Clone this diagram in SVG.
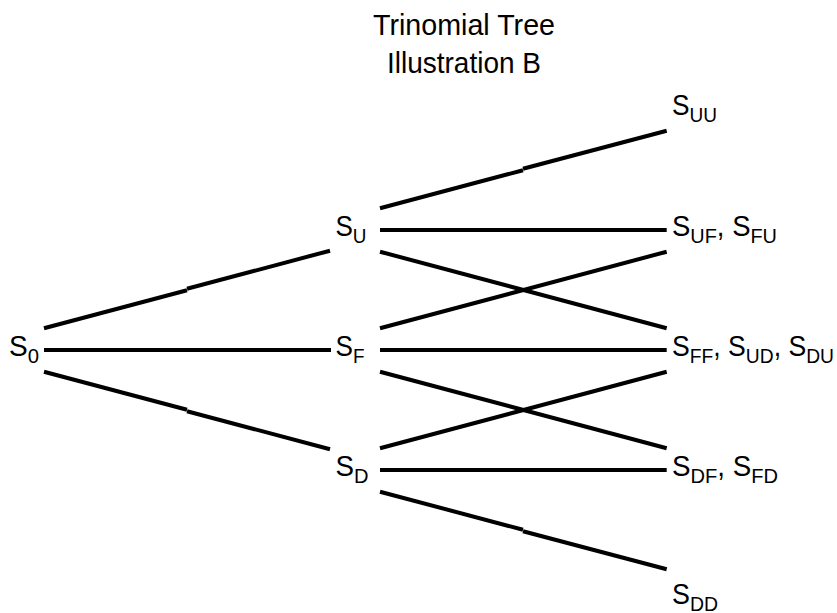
<svg xmlns="http://www.w3.org/2000/svg" width="837" height="613" viewBox="0 0 837 613">
  <style>
    text { font-family: "Liberation Sans", Arial, Helvetica, sans-serif; fill: #000; }
    .title { font-size: 30px; }
    .lbl { font-size: 29px; }
    .sub { font-size: 21px; }
    .edge { stroke: #000; stroke-width: 4; fill: none; stroke-linecap: butt; }
  </style>
  <rect width="837" height="613" fill="#fff"/>

  <g id="title">
    <text class="title" x="373" y="35" textLength="182" lengthAdjust="spacingAndGlyphs">Trinomial Tree</text>
    <text class="title" x="387" y="73" textLength="154" lengthAdjust="spacingAndGlyphs">Illustration B</text>
  </g>

  <g id="connectors">
    <!-- step 0 -> 1 -->
    <line class="edge" x1="44" y1="328.3" x2="187" y2="290.2"/>
    <line class="edge" x1="187" y1="288.8" x2="330" y2="250.7"/>
    <line class="edge" x1="44" y1="350" x2="331" y2="350"/>
    <line class="edge" x1="44" y1="371.7" x2="187" y2="409.8"/>
    <line class="edge" x1="187" y1="411.2" x2="330" y2="449.3"/>
    <!-- step 1 -> 2, from S_U -->
    <line class="edge" x1="380" y1="208.3" x2="523" y2="170.2"/>
    <line class="edge" x1="523" y1="168.8" x2="666.7" y2="130.7"/>
    <line class="edge" x1="380" y1="230" x2="666.7" y2="230"/>
    <line class="edge" x1="380" y1="251.7" x2="666.7" y2="328.3"/>
    <!-- from S_F -->
    <line class="edge" x1="380" y1="328.3" x2="666.7" y2="251.7"/>
    <line class="edge" x1="380" y1="350" x2="666.7" y2="350"/>
    <line class="edge" x1="380" y1="371.7" x2="666.7" y2="448.3"/>
    <!-- from S_D -->
    <line class="edge" x1="380" y1="448.3" x2="666.7" y2="371.7"/>
    <line class="edge" x1="380" y1="470" x2="666.7" y2="470"/>
    <line class="edge" x1="380" y1="491.7" x2="523" y2="529.8"/>
    <line class="edge" x1="523" y1="531.2" x2="666.7" y2="569.3"/>
  </g>

  <g id="node-S0">
    <text class="lbl" x="9" y="356" textLength="30" lengthAdjust="spacingAndGlyphs">S<tspan class="sub" dy="6.5">0</tspan></text>
  </g>
  <g id="node-SU">
    <text class="lbl" x="335.5" y="236" textLength="31" lengthAdjust="spacingAndGlyphs">S<tspan class="sub" dy="6.5">U</tspan></text>
  </g>
  <g id="node-SF">
    <text class="lbl" x="335.5" y="356" textLength="29" lengthAdjust="spacingAndGlyphs">S<tspan class="sub" dy="6.5">F</tspan></text>
  </g>
  <g id="node-SD">
    <text class="lbl" x="335.5" y="476" textLength="33" lengthAdjust="spacingAndGlyphs">S<tspan class="sub" dy="6.5">D</tspan></text>
  </g>
  <g id="node-SUU">
    <text class="lbl" x="672" y="115" textLength="45" lengthAdjust="spacingAndGlyphs">S<tspan class="sub" dy="6.5">UU</tspan></text>
  </g>
  <g id="node-SUF">
    <text class="lbl" x="672" y="236" textLength="105" lengthAdjust="spacingAndGlyphs">S<tspan class="sub" dy="6.5">UF</tspan><tspan dy="-6.5">, S</tspan><tspan class="sub" dy="6.5">FU</tspan></text>
  </g>
  <g id="node-SFF">
    <text class="lbl" x="672" y="356" textLength="162" lengthAdjust="spacingAndGlyphs">S<tspan class="sub" dy="6.5">FF</tspan><tspan dy="-6.5">, S</tspan><tspan class="sub" dy="6.5">UD</tspan><tspan dy="-6.5">, S</tspan><tspan class="sub" dy="6.5">DU</tspan></text>
  </g>
  <g id="node-SDF">
    <text class="lbl" x="672" y="476" textLength="106" lengthAdjust="spacingAndGlyphs">S<tspan class="sub" dy="6.5">DF</tspan><tspan dy="-6.5">, S</tspan><tspan class="sub" dy="6.5">FD</tspan></text>
  </g>
  <g id="node-SDD">
    <text class="lbl" x="672" y="604" textLength="46" lengthAdjust="spacingAndGlyphs">S<tspan class="sub" dy="6.5">DD</tspan></text>
  </g>
</svg>
